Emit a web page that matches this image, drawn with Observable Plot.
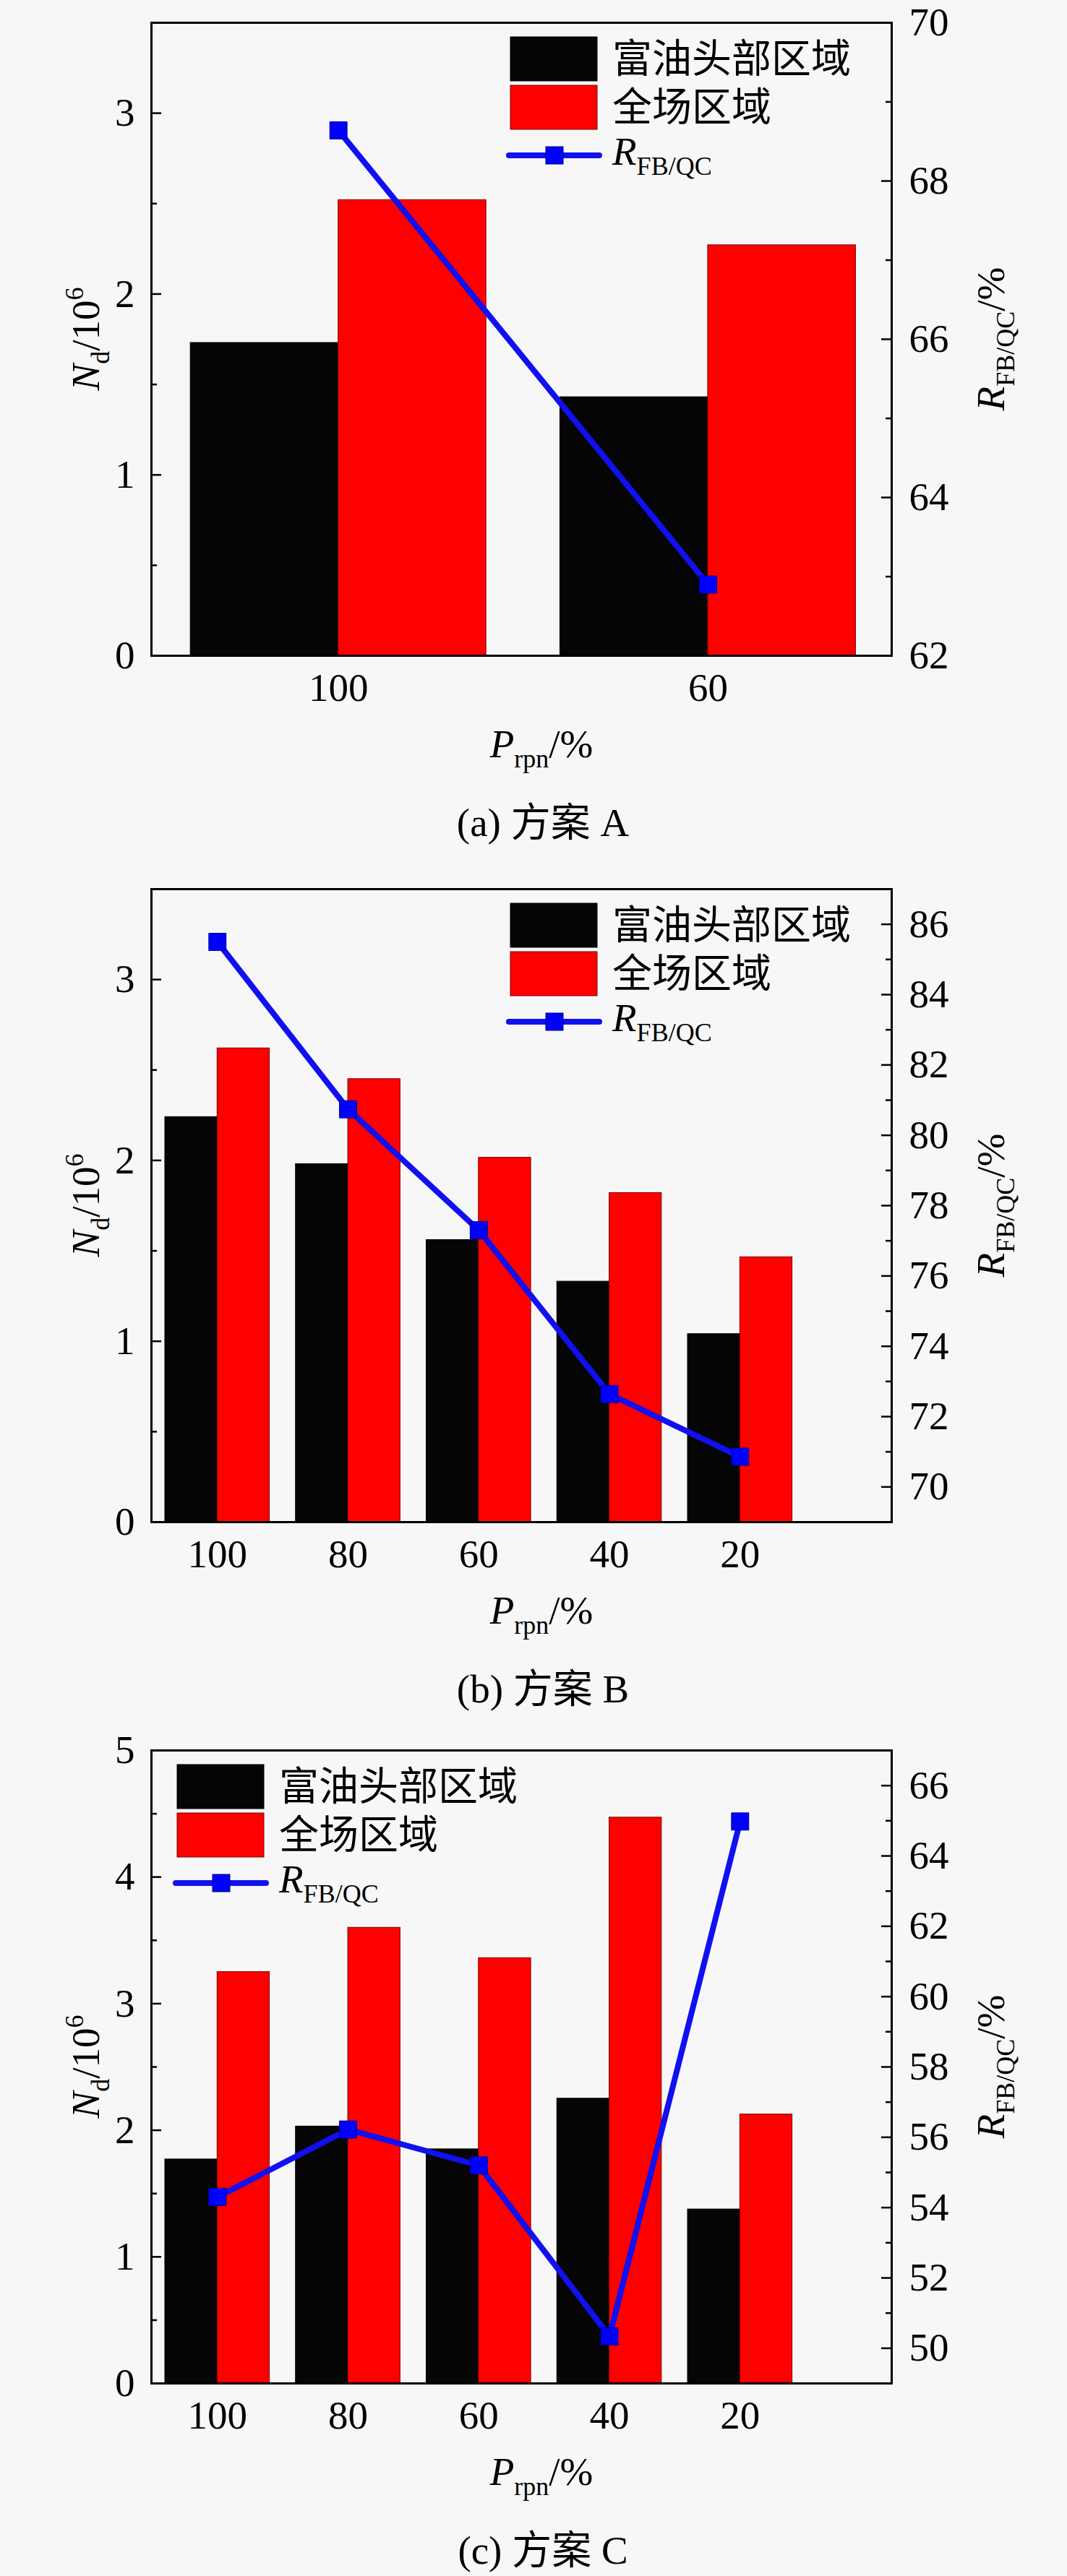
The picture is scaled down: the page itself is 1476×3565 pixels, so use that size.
<!DOCTYPE html>
<html><head><meta charset="utf-8">
<script src="https://cdn.jsdelivr.net/npm/d3@7"></script>
<script src="https://cdn.jsdelivr.net/npm/@observablehq/plot@0.6"></script>
<style>
body{margin:0;background:#f7f7f7;}
#wrap{position:relative;width:1476px;height:3565px;overflow:hidden;}
.panel{position:absolute;left:0;}
.cap{position:absolute;left:0;width:1476px;text-align:center;font-size:55px;line-height:55px;font-family:"Liberation Serif","Noto Sans CJK SC",serif;color:#000;padding-left:26px;box-sizing:border-box;white-space:pre;}
</style></head><body><div id="wrap"></div>
<script>
// ---- Data ----
const seriesNames = ["富油头部区域", "全场区域"];
// (a) 方案 A
const catsA = ["100", "60"];
const headA = [1.73, 1.43];
const fieldA = [2.52, 2.27];
const ratioA = [68.64, 62.9];
// (b) 方案 B
const catsB = ["100", "80", "60", "40", "20"];
const headB = [2.24, 1.98, 1.56, 1.33, 1.04];
const fieldB = [2.62, 2.45, 2.015, 1.82, 1.465];
const ratioB = [85.5, 80.74, 77.3, 72.64, 70.86];
// (c) 方案 C
const catsC = ["100", "80", "60", "40", "20"];
const headC = [1.77, 2.03, 1.85, 2.25, 1.375];
const fieldC = [3.25, 3.60, 3.36, 4.47, 2.125];
const ratioC = [54.3, 56.22, 55.2, 50.34, 64.98];
// axis ticks
const yMajorAB = [0, 1, 2, 3];
const yMinorAB = [0.5, 1.5, 2.5];
const yMajorC = [0, 1, 2, 3, 4, 5];
const yMinorC = [0.5, 1.5, 2.5, 3.5, 4.5];
const rMajorA = [62, 64, 66, 68, 70];
const rMinorA = [63, 65, 67, 69];
const rMajorB = [70, 72, 74, 76, 78, 80, 82, 84, 86];
const rMinorB = [69, 71, 73, 75, 77, 79, 81, 83, 85, 87];
const rMajorC = [50, 52, 54, 56, 58, 60, 62, 64, 66];
const rMinorC = [49, 51, 53, 55, 57, 59, 61, 63, 65, 67];
const captions = ["(a) 方案 A", "(b) 方案 B", "(c) 方案 C"];

const FONT = '"Liberation Serif", "Noto Sans CJK SC", serif';
const wrap = document.getElementById("wrap");

function addRich(g, parts, attrs) {
  const t = g.append("text").attr("font-family", FONT).attr("font-size", 55).attr("fill", "#000");
  for (const [k, v] of Object.entries(attrs)) t.attr(k, v);
  let shift = 0;
  for (const p of parts) {
    const ts = t.append("tspan").text(p.t);
    const target = p.sub ? 14 : p.sup ? -22 : 0;
    if (target !== shift) { ts.attr("dy", target - shift); shift = target; }
    if (p.sub || p.sup) ts.attr("font-size", 36);
    if (p.it) ts.attr("font-style", "italic");
  }
  return t;
}

function panel(cfg) {
  const {cats, head, field, ratio, yDom, yMajor, yMinor, rDom, rMajor, rMinor, xDom, legendLeft, top, caption} = cfg;
  const W = 1476, H = 1080, ML = 209, MR = 243, MT = 31, FH = 876, MB = H - MT - FH;
  const FW = W - ML - MR;
  const tf = d3.scaleLinear(rDom, yDom);
  const rows = cats.map((c, i) => ({i, c, head: head[i], field: field[i], ratio: ratio[i]}));
  const idx = cats.map((c, i) => i);
  const tickStyle = {stroke: "#000", strokeWidth: 2.5};
  const svg = Plot.plot({
    width: W, height: H, marginLeft: ML, marginRight: MR, marginTop: MT, marginBottom: MB,
    style: {fontFamily: FONT, fontSize: "55px", background: "transparent", color: "black", overflow: "visible"},
    x: {type: "linear", domain: xDom, axis: null},
    y: {type: "linear", domain: yDom, axis: null},
    marks: [
      Plot.rectY(rows, {x1: d => d.i - 0.4, x2: d => d.i, y1: 0, y2: "head", fill: "#050505", stroke: "#000", strokeWidth: 1}),
      Plot.rectY(rows, {x1: d => d.i, x2: d => d.i + 0.4, y1: 0, y2: "field", fill: "#ff0000", stroke: "#7a0000", strokeWidth: 1}),
      Plot.lineY(rows, {x: "i", y: d => tf(d.ratio), stroke: "#1010f0", strokeWidth: 8}),
      Plot.dot(rows, {x: "i", y: d => tf(d.ratio), symbol: "square", r: 13.5, fill: "#0000ff", stroke: "#00008a", strokeWidth: 1}),
      Plot.frame({stroke: "#000", strokeWidth: 3}),
      // inward ticks, left (N_d) axis
      Plot.tickY(yMajor, {y: d => d, insetRight: FW - 14, ...tickStyle}),
      Plot.tickY(yMinor, {y: d => d, insetRight: FW - 8, ...tickStyle}),
      // inward ticks, right (R) axis
      Plot.tickY(rMajor, {y: d => tf(d), insetLeft: FW - 14, ...tickStyle}),
      Plot.tickY(rMinor, {y: d => tf(d), insetLeft: FW - 8, ...tickStyle}),
      Plot.axisY({ticks: yMajor, anchor: "left", tickSize: 0, tickPadding: 23, tickFormat: d3.format("d"), label: null}),
      Plot.axisY({ticks: rMajor.map(tf), anchor: "right", tickSize: 0, tickPadding: 24, tickFormat: v => String(Math.round(tf.invert(v))), label: null}),
      Plot.axisX({ticks: idx, anchor: "bottom", tickSize: 0, tickPadding: 23, tickFormat: i => cats[i], label: null})
    ]
  });
  const s = d3.select(svg);
  const fb = MT + FH;
  // axis titles
  addRich(s, [{t: "N", it: true}, {t: "d", sub: true}, {t: "/10"}, {t: "6", sup: true}],
    {"text-anchor": "middle", transform: `translate(0,${MT + FH / 2}) rotate(-90)`, y: 137});
  addRich(s, [{t: "R", it: true}, {t: "FB/QC", sub: true}, {t: "/%"}],
    {"text-anchor": "middle", transform: `translate(0,${MT + FH / 2}) rotate(-90)`, y: 1389});
  addRich(s, [{t: "P", it: true}, {t: "rpn", sub: true}, {t: "/%"}],
    {"text-anchor": "middle", x: 749, y: fb + 141});
  // legend
  const lx = ML + legendLeft, lt = MT + 20;
  const lg = s.append("g");
  lg.append("rect").attr("x", lx).attr("y", lt).attr("width", 120).attr("height", 61).attr("fill", "#050505").attr("stroke", "#000");
  lg.append("rect").attr("x", lx).attr("y", lt + 67).attr("width", 120).attr("height", 61).attr("fill", "#ff0000").attr("stroke", "#7a0000");
  const ly = lt + 164;
  lg.append("line").attr("x1", lx - 2).attr("x2", lx + 123).attr("y1", ly).attr("y2", ly).attr("stroke", "#1010f0").attr("stroke-width", 8).attr("stroke-linecap", "round");
  lg.append("rect").attr("x", lx + 49).attr("y", ly - 12).attr("width", 24).attr("height", 24).attr("fill", "#0000ff").attr("stroke", "#00008a");
  addRich(lg, [{t: seriesNames[0]}], {x: lx + 141, y: lt + 30 + 19, "text-anchor": "start"});
  addRich(lg, [{t: seriesNames[1]}], {x: lx + 141, y: lt + 97 + 19, "text-anchor": "start"});
  addRich(lg, [{t: "R", it: true}, {t: "FB/QC", sub: true}], {x: lx + 141, y: ly + 13, "text-anchor": "start"});

  const box = document.createElement("div");
  box.className = "panel";
  box.style.top = top + "px";
  box.appendChild(svg);
  wrap.appendChild(box);
  const cap = document.createElement("div");
  cap.className = "cap";
  cap.style.top = (top + fb + 250 - 46) + "px";
  cap.textContent = caption;
  wrap.appendChild(cap);
}

panel({cats: catsA, head: headA, field: fieldA, ratio: ratioA, yDom: [0, 3.5], yMajor: yMajorAB, yMinor: yMinorAB,
  rDom: [62, 70], rMajor: rMajorA, rMinor: rMinorA, xDom: [-0.506, 1.497], legendLeft: 497, top: 0, caption: captions[0]});
panel({cats: catsB, head: headB, field: fieldB, ratio: ratioB, yDom: [0, 3.5], yMajor: yMajorAB, yMinor: yMinorAB,
  rDom: [69, 87], rMajor: rMajorB, rMinor: rMinorB, xDom: [-0.505, 5.16], legendLeft: 497, top: 1199, caption: captions[1]});
panel({cats: catsC, head: headC, field: fieldC, ratio: ratioC, yDom: [0, 5], yMajor: yMajorC, yMinor: yMinorC,
  rDom: [49, 67], rMajor: rMajorC, rMinor: rMinorC, xDom: [-0.505, 5.16], legendLeft: 36, top: 2391, caption: captions[2]});
</script>
</body></html>
